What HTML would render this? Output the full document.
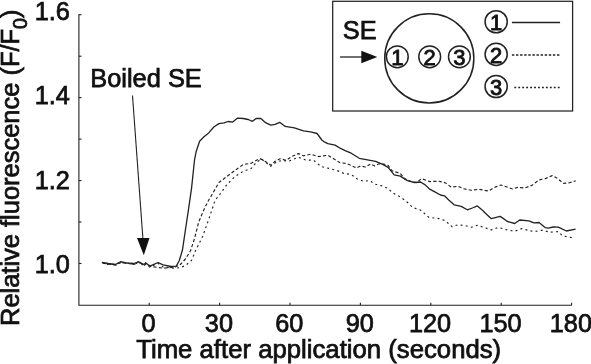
<!DOCTYPE html>
<html><head><meta charset="utf-8"><title>Relative fluorescence</title>
<style>
html,body{margin:0;padding:0;background:#fff;}
svg{display:block;font-family:"Liberation Sans",Arial,Helvetica,sans-serif;font-size:25.3px;fill:#111;}
text{stroke:#111;stroke-width:0.75px;}
.cd text{stroke-width:0.85px;}
</style></head><body>
<svg width="591" height="364" viewBox="0 0 591 364">
<rect width="591" height="364" fill="#fff"/>
<g stroke="#222" stroke-width="1.1" fill="none">
<polyline points="78.9,14.2 78.9,305.2 571.7,305.2"/>
<line x1="149.2" y1="305.2" x2="149.2" y2="302.8"/><line x1="219.6" y1="305.2" x2="219.6" y2="302.8"/><line x1="290.0" y1="305.2" x2="290.0" y2="302.8"/><line x1="360.4" y1="305.2" x2="360.4" y2="302.8"/><line x1="430.8" y1="305.2" x2="430.8" y2="302.8"/><line x1="501.2" y1="305.2" x2="501.2" y2="302.8"/><line x1="571.6" y1="305.2" x2="571.6" y2="302.8"/>
<line x1="78.9" y1="263.5" x2="81.5" y2="263.5"/><line x1="78.9" y1="222.0" x2="81.5" y2="222.0"/><line x1="78.9" y1="180.6" x2="81.5" y2="180.6"/><line x1="78.9" y1="139.1" x2="81.5" y2="139.1"/><line x1="78.9" y1="97.6" x2="81.5" y2="97.6"/><line x1="78.9" y1="56.2" x2="81.5" y2="56.2"/><line x1="78.9" y1="14.7" x2="81.5" y2="14.7"/>
</g>
<g id="xl"><text x="148.5" y="332" text-anchor="middle">0</text><text x="218.9" y="332" text-anchor="middle">30</text><text x="289.3" y="332" text-anchor="middle">60</text><text x="359.7" y="332" text-anchor="middle">90</text><text x="430.1" y="332" text-anchor="middle">120</text><text x="500.5" y="332" text-anchor="middle">150</text><text x="570.9" y="332" text-anchor="middle">180</text></g>
<g id="yl"><text x="69.8" y="272.8" text-anchor="end">1.0</text><text x="69.8" y="188.6" text-anchor="end">1.2</text><text x="69.8" y="104.4" text-anchor="end">1.4</text><text x="69.8" y="20.2" text-anchor="end">1.6</text></g>
<text id="xlabel" x="136.2" y="357.5" textLength="365" lengthAdjust="spacingAndGlyphs">Time after application (seconds)</text>
<text id="ylabel" transform="translate(18.6,326) rotate(-90)" textLength="316.5" lengthAdjust="spacingAndGlyphs">Relative fluorescence (F/F<tspan font-size="19.5" dy="8.8">0</tspan><tspan dy="-8.8">)</tspan></text>
<text id="boiled" x="90.2" y="86.5" textLength="111.6" lengthAdjust="spacingAndGlyphs">Boiled SE</text>
<line x1="132.5" y1="95.5" x2="143" y2="240" stroke="#222" stroke-width="1.1"/>
<polygon stroke="none" points="137,238 149.5,238 143.8,255.2" fill="#111"/>
<g fill="none" stroke="#222" stroke-linejoin="round">
<polyline stroke-width="1.3" points="102.2,262.5 108.3,263.5 115.4,264.5 120.5,261.7 126.5,262.9 133.7,263.5 138.7,261.9 143.8,264.5 145.8,262.9 149.9,266.1 158.0,262.5 163.1,264.9 171.2,266.5 176.3,266.1 179.3,260.5 182.4,250.3 185.4,230.0 188.4,210.1 191.5,188.6 194.5,160.2 196.1,151.8 199.6,141.2 203.7,137.0 208.7,132.9 213.8,127.0 218.9,123.6 224.0,122.9 228.0,121.5 232.7,122.1 237.6,118.1 243.2,118.5 248.3,119.5 252.4,121.3 256.4,118.3 260.9,118.5 265.6,122.7 270.7,125.2 275.1,124.4 279.7,122.3 285.2,126.4 294.4,127.8 303.5,130.9 310.6,131.9 317.1,133.5 321.8,140.0 323.8,141.6 327.9,143.7 335.0,145.1 341.1,148.7 345.1,150.6 351.2,153.2 359.3,158.3 367.5,159.9 375.6,161.3 382.7,164.4 388.1,167.4 394.2,174.9 400.3,176.1 407.4,180.6 414.5,182.5 420.6,182.0 425.2,184.9 429.7,189.2 435.3,192.1 440.4,195.0 444.5,195.8 449.0,200.2 454.1,204.8 461.2,206.4 467.3,209.8 472.4,208.0 477.3,205.9 482.2,209.9 484.6,212.5 491.3,218.7 500.2,216.4 507.5,221.5 514.7,223.5 519.7,220.0 528.9,220.9 533.9,222.9 539.0,222.5 545.1,227.6 548.2,228.2 553.2,227.0 558.3,227.2 566.4,231.0 575.6,229.2"/>
<polyline stroke-width="1.15" stroke-dasharray="3.2,2.2" points="102.8,263.2 108.9,264.2 116.0,265.2 121.1,262.4 127.1,263.6 134.3,264.2 139.3,262.6 144.4,265.2 146.4,263.6 150.9,266.5 163.1,268.2 175.3,267.0 180.4,264.5 185.4,259.0 190.5,250.8 194.5,238.6 198.6,222.3 203.7,210.2 208.7,200.0 210.8,196.7 218.9,182.5 227.0,176.4 235.1,170.3 243.2,164.6 251.4,163.2 259.5,158.5 263.6,160.2 270.7,165.2 275.1,161.3 280.2,158.7 286.2,160.3 292.3,156.2 298.4,153.6 303.5,155.8 310.6,154.2 318.7,156.6 327.9,155.2 332.9,158.3 340.1,162.7 346.1,163.4 351.2,165.4 356.3,168.0 360.4,166.0 365.4,167.0 370.5,164.0 374.6,166.0 378.6,164.0 383.7,164.0 388.1,165.4 392.2,170.9 400.3,173.5 404.4,178.6 410.5,181.2 416.5,182.6 421.6,178.6 429.7,181.6 438.9,181.2 445.0,182.6 451.1,187.1 458.2,186.3 463.2,188.7 471.2,190.3 479.1,189.3 488.4,191.0 494.4,187.4 501.0,185.0 512.6,189.0 517.7,187.4 524.8,188.0 531.9,185.4 539.0,179.9 545.1,178.7 552.2,175.6 557.3,178.3 563.4,183.4 569.5,182.7 575.6,180.9"/>
<polyline stroke-width="1.15" stroke-dasharray="2,3.2" points="101.9,262.4 108.0,264.5 115.1,264.4 120.2,262.7 126.2,262.8 133.4,264.5 138.4,261.8 143.5,265.5 145.5,262.8 149.6,267.1 158.0,263.3 163.1,267.0 175.3,268.2 180.4,267.6 185.4,265.5 191.5,260.5 195.5,250.8 202.6,236.5 207.7,222.3 211.8,210.2 215.2,200.0 218.9,195.7 227.0,184.5 235.1,176.4 243.2,171.3 251.4,168.3 256.4,162.2 261.5,159.1 265.6,162.2 270.7,166.3 276.1,162.3 282.2,160.3 288.3,161.3 298.4,157.3 305.5,159.9 313.7,160.3 320.8,166.4 328.9,168.4 337.0,170.5 344.1,173.5 351.2,174.5 357.3,179.0 363.4,181.2 369.5,180.6 375.6,184.3 381.0,185.6 387.1,188.0 393.2,193.1 400.3,197.0 406.4,201.3 412.5,207.4 420.6,210.1 428.7,217.2 438.9,218.6 445.0,220.6 452.1,226.7 458.2,224.7 465.3,225.7 471.5,227.2 477.3,225.3 484.4,227.6 491.3,229.9 498.4,227.4 507.5,230.0 514.7,231.2 521.8,228.6 528.9,230.6 533.9,231.6 542.1,230.2 550.2,232.2 558.3,231.6 562.4,235.7 568.5,237.1 572.5,237.7"/>
</g>
<g id="legend">
<rect x="332.7" y="1.3" width="239.9" height="109.7" fill="#fff" stroke="#222" stroke-width="1.25"/>
<text x="342.8" y="38.5" textLength="33.8" lengthAdjust="spacingAndGlyphs">SE</text>
<line x1="340" y1="57" x2="363" y2="57" stroke="#222" stroke-width="1.3"/>
<polygon stroke="none" points="361.3,50.7 361.3,63.3 377.3,57" fill="#111"/>
<g fill="none" stroke="#222" stroke-width="1.5">
<circle cx="429.3" cy="58.4" r="44.55"/>
<circle cx="397.3" cy="56.8" r="10.9"/>
<circle cx="429.7" cy="56.8" r="10.9"/>
<circle cx="459.4" cy="56.8" r="10.9"/>
<circle cx="496.15" cy="21.75" r="11.1"/>
<circle cx="496.15" cy="54.3" r="11.1"/>
<circle cx="496.15" cy="86.5" r="11.1"/>
<line x1="511.9" y1="22.4" x2="560.1" y2="22.4" stroke-width="1.5"/>
<line x1="511.9" y1="55" x2="560.4" y2="55" stroke-dasharray="2.4,1.7"/>
<line x1="514.3" y1="87.5" x2="559.8" y2="87.5" stroke-dasharray="1.9,2.05"/>
</g>
<g text-anchor="middle" font-size="22" class="cd">
<text x="397.3" y="65">1</text><text x="429.7" y="65">2</text><text x="459.4" y="65">3</text>
<text x="496.15" y="29.9">1</text><text x="496.15" y="62.5">2</text><text x="496.15" y="94.7">3</text>
</g>
</g>
</svg>
</body></html>
